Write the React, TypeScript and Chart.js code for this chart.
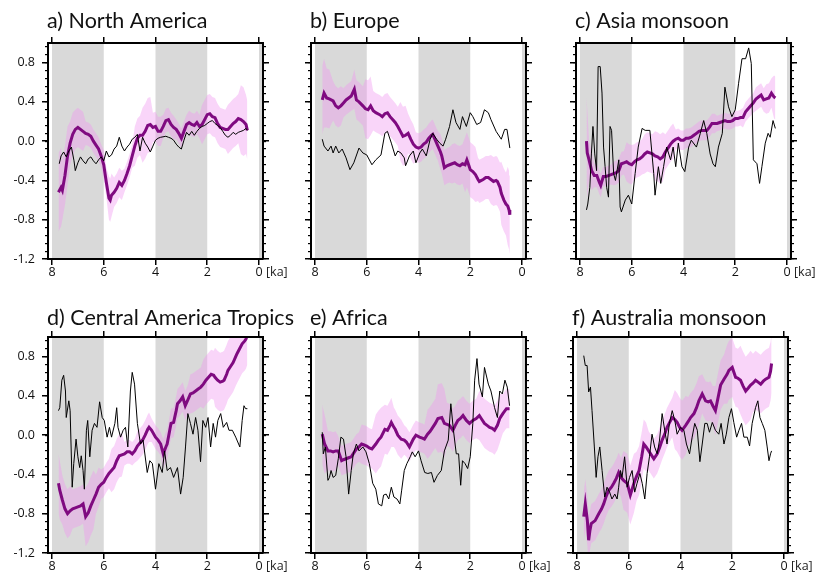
import React, { useEffect, useRef } from 'react';
import { Chart, registerables } from 'chart.js';

Chart.register(...registerables);

// ---- axis / tick definitions ----
const xTicks = [8, 6, 4, 2, 0];
const yTicks = [-1.2, -0.8, -0.4, 0, 0.4, 0.8];
const shadeBands = [[8, 6], [4, 2], [0, -2]];
const X_MIN = -0.155;
const X_MAX = 8.155;
const Y_MIN = -1.2;
const Y_MAX = 1.0;
const MINOR_STEP = 0.08;

// ---- data: [age ka, value] ----
// a) North America
const naMean = [[7.75,-0.52],[7.65,-0.47],[7.6,-0.5],[7.5,-0.35],[7.4,-0.15],[7.3,-0.02],[7.2,0.07],[7.1,0.12],[7.0,0.14],[6.9,0.12],[6.8,0.10],[6.7,0.08],[6.6,0.07],[6.5,0.05],[6.4,0.0],[6.3,-0.04],[6.2,-0.08],[6.1,-0.15],[6.0,-0.24],[5.9,-0.42],[5.8,-0.58],[5.75,-0.6],[5.7,-0.55],[5.6,-0.52],[5.5,-0.48],[5.4,-0.42],[5.3,-0.45],[5.2,-0.4],[5.1,-0.33],[5.0,-0.25],[4.9,-0.15],[4.8,-0.05],[4.7,0.03],[4.6,0.06],[4.5,0.06],[4.4,0.1],[4.3,0.16],[4.2,0.17],[4.1,0.14],[4.0,0.15],[3.9,0.1],[3.8,0.1],[3.7,0.15],[3.6,0.21],[3.5,0.22],[3.4,0.17],[3.3,0.14],[3.2,0.12],[3.1,0.08],[3.0,0.03],[2.9,0.1],[2.8,0.17],[2.7,0.19],[2.6,0.17],[2.5,0.16],[2.4,0.19],[2.3,0.15],[2.2,0.17],[2.1,0.22],[2.0,0.27],[1.9,0.28],[1.8,0.25],[1.7,0.24],[1.6,0.18],[1.5,0.14],[1.4,0.13],[1.3,0.12],[1.2,0.12],[1.1,0.15],[1.0,0.18],[0.9,0.2],[0.8,0.23],[0.7,0.22],[0.6,0.2],[0.5,0.17],[0.45,0.11]];
const naErr = [[7.75,0.4],[7.5,0.3],[7.2,0.22],[7.0,0.2],[6.6,0.12],[6.2,0.12],[5.9,0.15],[5.8,0.22],[5.5,0.15],[5.0,0.12],[4.7,0.2],[4.4,0.28],[4.0,0.15],[3.5,0.12],[3.0,0.1],[2.5,0.12],[2.0,0.2],[1.5,0.2],[1.0,0.25],[0.6,0.35],[0.45,0.3]];
const naBlack = [[7.72,-0.23],[7.65,-0.15],[7.55,-0.11],[7.45,-0.16],[7.35,-0.1],[7.25,-0.06],[7.15,-0.2],[7.1,-0.3],[7.0,-0.22],[6.9,-0.16],[6.8,-0.2],[6.7,-0.23],[6.6,-0.18],[6.5,-0.16],[6.4,-0.2],[6.3,-0.23],[6.2,-0.19],[6.1,-0.16],[6.0,-0.2],[5.9,-0.1],[5.8,-0.16],[5.7,-0.14],[5.6,-0.08],[5.5,-0.05],[5.4,0.04],[5.3,-0.05],[5.2,-0.1],[5.1,-0.06],[5.0,-0.03],[4.9,0.02],[4.8,0.04],[4.7,0.07],[4.6,-0.1],[4.5,0.04],[4.4,-0.02],[4.3,-0.06],[4.2,-0.11],[4.1,-0.05],[4.0,0.01],[3.9,0.03],[3.8,0.04],[3.6,0.05],[3.5,0.04],[3.4,0.03],[3.3,0.01],[3.2,-0.03],[3.1,-0.06],[3.0,-0.08],[2.9,0.01],[2.8,0.09],[2.7,0.06],[2.6,0.1],[2.5,0.06],[2.4,0.1],[2.3,0.13],[2.2,0.15],[2.1,0.16],[2.0,0.18],[1.9,0.2],[1.8,0.21],[1.7,0.18],[1.6,0.16],[1.5,0.14],[1.4,0.1],[1.3,0.06],[1.2,0.04],[1.1,0.06],[1.0,0.09],[0.9,0.07],[0.8,0.09],[0.7,0.1],[0.6,0.11],[0.5,0.13],[0.45,0.11]];

// b) Europe
const nbMean = [[7.72,0.42],[7.65,0.49],[7.55,0.44],[7.45,0.43],[7.3,0.41],[7.2,0.36],[7.1,0.34],[7.0,0.36],[6.9,0.39],[6.8,0.42],[6.7,0.44],[6.6,0.46],[6.48,0.53],[6.4,0.42],[6.3,0.4],[6.15,0.36],[6.05,0.33],[5.95,0.32],[5.85,0.36],[5.75,0.31],[5.65,0.29],[5.5,0.27],[5.4,0.25],[5.3,0.28],[5.2,0.29],[5.1,0.25],[5.0,0.22],[4.9,0.19],[4.8,0.15],[4.7,0.1],[4.6,0.05],[4.5,0.06],[4.4,0.08],[4.3,0.02],[4.2,-0.03],[4.1,-0.06],[4.0,-0.07],[3.9,-0.06],[3.8,-0.03],[3.7,-0.01],[3.6,0.03],[3.5,0.06],[3.45,0.07],[3.35,0.01],[3.25,-0.05],[3.15,-0.11],[3.1,-0.15],[3.0,-0.27],[2.9,-0.25],[2.8,-0.24],[2.7,-0.23],[2.6,-0.22],[2.5,-0.24],[2.4,-0.25],[2.3,-0.23],[2.2,-0.24],[2.13,-0.19],[2.05,-0.25],[2.0,-0.29],[1.9,-0.31],[1.8,-0.34],[1.7,-0.39],[1.65,-0.41],[1.5,-0.39],[1.4,-0.37],[1.3,-0.37],[1.2,-0.39],[1.1,-0.41],[1.0,-0.4],[0.95,-0.41],[0.85,-0.47],[0.8,-0.53],[0.7,-0.6],[0.62,-0.64],[0.55,-0.66],[0.5,-0.7],[0.47,-0.75]];
const nbErr = [[7.72,0.35],[7.5,0.3],[7.2,0.2],[6.8,0.15],[6.3,0.2],[6.0,0.3],[5.6,0.2],[5.0,0.2],[4.6,0.3],[4.3,0.2],[4.0,0.15],[3.5,0.15],[3.0,0.18],[2.5,0.2],[2.0,0.28],[1.5,0.22],[1.0,0.25],[0.7,0.32],[0.5,0.4]];
const nbBlack = [[7.72,0.02],[7.65,-0.05],[7.5,-0.1],[7.38,-0.05],[7.3,-0.12],[7.2,-0.05],[7.08,-0.12],[6.95,-0.08],[6.8,-0.17],[6.65,-0.29],[6.5,-0.22],[6.3,-0.07],[6.15,-0.12],[6.0,-0.14],[5.8,-0.24],[5.65,-0.19],[5.45,-0.14],[5.3,0.08],[5.2,0.1],[5.05,-0.02],[4.9,-0.15],[4.8,-0.1],[4.68,-0.12],[4.55,-0.17],[4.5,-0.25],[4.35,-0.15],[4.2,-0.1],[4.1,-0.22],[3.95,-0.12],[3.85,-0.08],[3.7,-0.15],[3.55,0.02],[3.45,0.08],[3.3,0.02],[3.18,-0.02],[3.05,-0.05],[2.95,0.02],[2.8,0.15],[2.67,0.32],[2.55,0.19],[2.4,0.12],[2.3,0.25],[2.15,0.15],[2.0,0.29],[1.9,0.25],[1.75,0.17],[1.6,0.19],[1.45,0.32],[1.3,0.29],[1.2,0.22],[1.0,0.1],[0.8,0.02],[0.67,0.12],[0.58,0.12],[0.47,-0.07]];

// c) Asia monsoon
const ncMean = [[7.75,0.0],[7.72,-0.12],[7.65,-0.19],[7.55,-0.3],[7.45,-0.35],[7.35,-0.35],[7.25,-0.42],[7.2,-0.45],[7.1,-0.36],[7.0,-0.36],[6.9,-0.35],[6.8,-0.34],[6.7,-0.33],[6.6,-0.32],[6.5,-0.3],[6.4,-0.23],[6.3,-0.22],[6.2,-0.21],[6.1,-0.23],[6.0,-0.24],[5.9,-0.21],[5.8,-0.19],[5.7,-0.18],[5.6,-0.16],[5.5,-0.13],[5.4,-0.11],[5.3,-0.12],[5.2,-0.13],[5.1,-0.15],[5.0,-0.16],[4.9,-0.18],[4.8,-0.16],[4.7,-0.11],[4.6,-0.07],[4.5,-0.03],[4.4,0.0],[4.3,0.02],[4.2,0.03],[4.1,0.01],[4.0,0.01],[3.9,0.03],[3.8,0.03],[3.7,0.04],[3.6,0.06],[3.5,0.08],[3.4,0.1],[3.3,0.11],[3.2,0.11],[3.1,0.11],[3.0,0.14],[2.9,0.18],[2.8,0.18],[2.7,0.18],[2.6,0.19],[2.5,0.2],[2.4,0.21],[2.3,0.2],[2.2,0.2],[2.1,0.21],[2.0,0.23],[1.9,0.23],[1.8,0.24],[1.7,0.24],[1.6,0.3],[1.5,0.33],[1.4,0.36],[1.3,0.39],[1.2,0.43],[1.1,0.45],[1.0,0.47],[0.9,0.42],[0.8,0.43],[0.7,0.44],[0.6,0.49],[0.5,0.45],[0.45,0.44]];
const ncErr = [[7.75,0.45],[7.65,0.2],[7.4,0.12],[7.0,0.1],[6.5,0.12],[6.1,0.2],[5.8,0.18],[5.3,0.2],[5.0,0.25],[4.6,0.18],[4.2,0.1],[3.5,0.1],[3.0,0.1],[2.5,0.08],[2.0,0.08],[1.5,0.1],[1.0,0.12],[0.7,0.15],[0.5,0.22]];
const ncBlack = [[7.75,-0.7],[7.7,-0.64],[7.62,-0.47],[7.56,-0.13],[7.5,0.15],[7.43,-0.13],[7.36,-0.3],[7.3,0.76],[7.22,0.76],[7.15,0.49],[7.09,-0.06],[7.03,-0.26],[6.97,-0.47],[6.9,-0.57],[6.84,0.15],[6.78,0.11],[6.7,-0.33],[6.63,-0.4],[6.5,-0.19],[6.45,-0.67],[6.4,-0.72],[6.25,-0.6],[6.13,-0.55],[6.0,-0.64],[5.87,-0.33],[5.75,-0.06],[5.6,0.13],[5.48,0.11],[5.3,0.11],[5.15,-0.33],[5.1,-0.55],[4.97,-0.26],[4.88,-0.43],[4.77,-0.26],[4.65,-0.06],[4.5,-0.19],[4.4,-0.06],[4.3,-0.26],[4.2,-0.02],[4.06,-0.26],[3.95,-0.31],[3.8,-0.06],[3.7,0.01],[3.5,-0.06],[3.35,0.08],[3.22,0.21],[3.1,0.08],[2.97,-0.13],[2.86,-0.23],[2.77,-0.26],[2.65,-0.06],[2.5,0.08],[2.4,0.55],[2.26,0.35],[2.13,0.25],[2.0,0.32],[1.87,0.59],[1.74,0.84],[1.6,0.84],[1.48,0.95],[1.38,0.79],[1.3,-0.19],[1.16,-0.23],[1.06,-0.43],[0.97,-0.26],[0.84,-0.02],[0.73,0.08],[0.65,0.04],[0.54,0.21],[0.45,0.13]];

// d) Central America Tropics
const ndMean = [[7.75,-0.49],[7.7,-0.56],[7.6,-0.66],[7.5,-0.75],[7.4,-0.8],[7.3,-0.77],[7.2,-0.75],[7.1,-0.74],[7.0,-0.73],[6.9,-0.72],[6.8,-0.7],[6.7,-0.83],[6.6,-0.79],[6.5,-0.72],[6.4,-0.66],[6.3,-0.6],[6.2,-0.53],[6.1,-0.5],[6.0,-0.48],[5.9,-0.43],[5.8,-0.39],[5.7,-0.36],[5.6,-0.33],[5.5,-0.26],[5.4,-0.21],[5.3,-0.2],[5.2,-0.19],[5.1,-0.17],[5.0,-0.17],[4.9,-0.19],[4.8,-0.16],[4.7,-0.11],[4.6,-0.08],[4.5,-0.05],[4.4,0.0],[4.3,0.06],[4.25,0.08],[4.15,0.05],[4.0,-0.02],[3.9,-0.05],[3.8,-0.09],[3.7,-0.19],[3.6,-0.12],[3.55,-0.09],[3.45,0.05],[3.4,0.12],[3.3,0.13],[3.2,0.25],[3.15,0.32],[3.05,0.35],[2.95,0.39],[2.85,0.3],[2.75,0.36],[2.65,0.42],[2.55,0.43],[2.45,0.45],[2.35,0.47],[2.25,0.49],[2.15,0.52],[2.05,0.56],[1.95,0.59],[1.85,0.62],[1.75,0.61],[1.7,0.59],[1.6,0.56],[1.5,0.54],[1.4,0.55],[1.35,0.56],[1.25,0.62],[1.2,0.66],[1.1,0.7],[1.0,0.74],[0.9,0.8],[0.85,0.83],[0.75,0.88],[0.65,0.93],[0.55,0.96],[0.5,0.98],[0.45,1.02]];
const ndErr = [[7.75,0.3],[7.5,0.25],[7.0,0.2],[6.6,0.3],[6.2,0.2],[6.0,0.15],[5.6,0.22],[5.0,0.12],[4.5,0.15],[4.0,0.12],[3.5,0.15],[3.0,0.15],[2.5,0.2],[2.0,0.25],[1.5,0.3],[1.0,0.3],[0.5,0.3]];
const ndBlack = [[7.75,0.25],[7.7,0.28],[7.62,0.56],[7.55,0.61],[7.48,0.45],[7.45,0.18],[7.35,0.35],[7.3,0.25],[7.22,-0.53],[7.16,-0.29],[7.07,-0.04],[7.0,-0.22],[6.93,-0.33],[6.87,-0.21],[6.8,-0.36],[6.75,-0.55],[6.67,0.05],[6.62,0.15],[6.54,-0.22],[6.45,0.05],[6.36,0.12],[6.26,0.08],[6.16,0.34],[6.06,0.18],[5.98,0.15],[5.87,-0.02],[5.78,0.08],[5.7,-0.02],[5.57,0.12],[5.5,0.28],[5.45,0.08],[5.35,-0.02],[5.25,0.05],[5.16,0.08],[5.07,-0.12],[4.97,0.45],[4.9,0.64],[4.81,0.52],[4.7,0.12],[4.58,-0.09],[4.48,-0.05],[4.32,-0.38],[4.22,-0.26],[4.12,-0.29],[4.0,-0.55],[3.87,-0.29],[3.74,-0.38],[3.65,-0.16],[3.55,-0.36],[3.42,-0.33],[3.3,-0.43],[3.15,-0.33],[3.03,-0.6],[2.93,-0.43],[2.84,-0.12],[2.75,0.22],[2.65,0.12],[2.55,0.01],[2.45,0.18],[2.36,0.05],[2.26,-0.27],[2.17,0.15],[2.06,0.08],[1.97,0.18],[1.87,-0.12],[1.77,0.12],[1.68,-0.02],[1.59,0.15],[1.48,0.22],[1.38,0.08],[1.25,0.13],[1.16,0.05],[1.03,0.05],[0.9,-0.02],[0.74,-0.12],[0.65,0.15],[0.58,0.3],[0.52,0.27],[0.45,0.27]];

// e) Africa
const neMean = [[7.72,0.01],[7.63,-0.09],[7.5,-0.16],[7.4,-0.16],[7.3,-0.17],[7.2,-0.16],[7.1,-0.16],[6.97,-0.26],[6.9,-0.25],[6.8,-0.24],[6.7,-0.23],[6.6,-0.22],[6.5,-0.18],[6.4,-0.14],[6.3,-0.12],[6.2,-0.09],[6.1,-0.1],[6.0,-0.11],[5.9,-0.13],[5.8,-0.14],[5.65,-0.09],[5.55,-0.05],[5.45,-0.02],[5.3,0.06],[5.2,0.05],[5.1,0.1],[5.05,0.13],[4.95,0.08],[4.9,0.06],[4.8,0.0],[4.67,-0.04],[4.55,-0.05],[4.47,-0.07],[4.35,-0.12],[4.2,-0.04],[4.1,0.0],[3.96,-0.02],[3.85,-0.03],[3.77,-0.04],[3.65,0.01],[3.55,0.04],[3.45,0.08],[3.35,0.12],[3.25,0.17],[3.1,0.18],[3.0,0.12],[2.9,0.11],[2.8,0.1],[2.67,0.05],[2.58,0.1],[2.48,0.15],[2.38,0.17],[2.28,0.2],[2.15,0.15],[2.03,0.12],[1.9,0.15],[1.77,0.17],[1.65,0.2],[1.55,0.16],[1.45,0.12],[1.35,0.1],[1.25,0.08],[1.15,0.07],[1.06,0.05],[0.95,0.1],[0.86,0.17],[0.74,0.22],[0.6,0.27],[0.48,0.27]];
const neErr = [[7.72,0.3],[7.4,0.2],[7.0,0.15],[6.5,0.15],[6.0,0.2],[5.6,0.3],[5.2,0.25],[4.8,0.2],[4.5,0.15],[4.0,0.15],[3.5,0.25],[3.2,0.35],[2.8,0.22],[2.4,0.2],[2.0,0.2],[1.5,0.25],[1.0,0.25],[0.5,0.2]];
const neBlack = [[7.72,0.03],[7.68,-0.19],[7.6,-0.12],[7.5,-0.46],[7.44,-0.43],[7.38,-0.36],[7.3,-0.43],[7.2,-0.41],[7.1,-0.24],[7.0,-0.02],[6.9,-0.04],[6.8,-0.22],[6.7,-0.6],[6.6,-0.36],[6.52,-0.19],[6.4,-0.09],[6.3,-0.16],[6.15,-0.12],[6.03,-0.17],[5.9,-0.29],[5.77,-0.49],[5.65,-0.55],[5.55,-0.7],[5.42,-0.72],[5.35,-0.61],[5.25,-0.6],[5.15,-0.65],[5.05,-0.53],[4.95,-0.63],[4.83,-0.65],[4.72,-0.7],[4.65,-0.56],[4.55,-0.36],[4.45,-0.29],[4.32,-0.22],[4.24,-0.17],[4.13,-0.22],[4.0,-0.16],[3.9,-0.26],[3.76,-0.38],[3.64,-0.39],[3.5,-0.38],[3.4,-0.48],[3.27,-0.41],[3.12,-0.36],[3.0,-0.16],[2.85,-0.05],[2.75,0.32],[2.65,0.05],[2.54,-0.19],[2.45,-0.19],[2.37,-0.51],[2.3,-0.26],[2.2,-0.29],[2.1,-0.34],[2.0,-0.22],[1.9,0.12],[1.83,0.56],[1.74,0.78],[1.66,0.52],[1.53,0.39],[1.45,0.69],[1.3,0.52],[1.2,0.45],[1.06,0.28],[0.95,0.18],[0.86,0.45],[0.76,0.42],[0.66,0.56],[0.57,0.49],[0.48,0.3]];

// f) Australia monsoon
const nfMean = [[7.74,-0.83],[7.68,-0.7],[7.6,-0.87],[7.55,-1.07],[7.5,-0.97],[7.45,-0.9],[7.3,-0.87],[7.16,-0.8],[7.05,-0.75],[6.97,-0.7],[6.87,-0.62],[6.77,-0.56],[6.67,-0.53],[6.58,-0.49],[6.48,-0.44],[6.39,-0.38],[6.3,-0.43],[6.2,-0.46],[6.06,-0.49],[5.94,-0.61],[5.8,-0.49],[5.7,-0.42],[5.6,-0.36],[5.5,-0.22],[5.42,-0.09],[5.33,-0.12],[5.23,-0.16],[5.13,-0.2],[5.03,-0.24],[4.9,-0.19],[4.8,-0.12],[4.71,-0.05],[4.6,0.02],[4.52,0.08],[4.42,0.13],[4.32,0.18],[4.22,0.16],[4.13,0.13],[4.03,0.08],[3.94,0.05],[3.8,0.1],[3.7,0.14],[3.61,0.18],[3.48,0.22],[3.38,0.28],[3.29,0.35],[3.16,0.42],[3.03,0.35],[2.93,0.34],[2.84,0.35],[2.75,0.3],[2.65,0.25],[2.55,0.38],[2.45,0.51],[2.32,0.57],[2.2,0.62],[2.13,0.66],[2.0,0.69],[1.87,0.59],[1.78,0.58],[1.68,0.56],[1.58,0.5],[1.48,0.45],[1.38,0.48],[1.29,0.51],[1.2,0.53],[1.1,0.56],[1.0,0.54],[0.9,0.52],[0.8,0.55],[0.71,0.57],[0.58,0.59],[0.52,0.65],[0.48,0.73]];
const nfErr = [[7.74,0.25],[7.3,0.2],[7.0,0.2],[6.5,0.2],[6.0,0.3],[5.6,0.25],[5.0,0.2],[4.5,0.2],[4.0,0.3],[3.5,0.25],[3.0,0.2],[2.5,0.25],[2.0,0.3],[1.5,0.35],[1.0,0.3],[0.5,0.3]];
const nfBlack = [[7.74,0.81],[7.68,0.71],[7.61,0.71],[7.55,0.44],[7.48,0.49],[7.42,0.25],[7.33,-0.12],[7.26,-0.43],[7.19,-0.22],[7.12,-0.12],[7.03,-0.36],[6.93,-0.63],[6.84,-0.53],[6.74,-0.58],[6.65,-0.65],[6.54,-0.6],[6.45,-0.65],[6.39,-0.53],[6.32,-0.36],[6.26,-0.43],[6.16,-0.22],[6.06,-0.53],[5.97,-0.43],[5.87,-0.36],[5.77,-0.58],[5.68,-0.49],[5.57,-0.39],[5.48,-0.49],[5.38,-0.65],[5.29,-0.39],[5.2,-0.22],[5.1,0.01],[5.0,-0.12],[4.9,-0.19],[4.81,-0.05],[4.71,0.22],[4.61,0.05],[4.52,-0.09],[4.43,0.12],[4.32,0.25],[4.22,0.15],[4.13,0.01],[4.0,0.08],[3.87,0.05],[3.77,-0.09],[3.65,-0.19],[3.55,-0.02],[3.45,0.12],[3.35,0.05],[3.25,-0.27],[3.16,-0.09],[3.06,0.12],[2.97,0.12],[2.88,0.03],[2.77,0.13],[2.65,0.05],[2.52,0.01],[2.43,0.12],[2.32,-0.09],[2.23,0.01],[2.13,0.18],[2.03,0.27],[1.94,0.13],[1.83,-0.02],[1.74,0.05],[1.64,0.12],[1.55,-0.02],[1.42,-0.02],[1.33,-0.11],[1.23,0.12],[1.1,0.28],[1.01,0.35],[0.93,0.18],[0.84,0.12],[0.74,0.05],[0.65,-0.12],[0.58,-0.26],[0.52,-0.19],[0.48,-0.16]];

// ---- styling / layout ----
const GREY = '#d9d9d9';
const PINK = 'rgba(240,150,240,0.4)';
const PURPLE = '#7f0a80';
const FONT = "'Open Sans', 'DejaVu Sans', sans-serif";
const TITLE_FONT = "21.5px Lato, 'Open Sans', sans-serif";
const PW = 215;
const PH = 216;
const ML = 46;
const MT = 42;
const MR = 40;
const MB = 26;

type Row = number[];
type PanelDef = {
  title: string; mean: Row[]; err: Row[]; black: Row[];
  left: number; top: number; showY: boolean; showKa: boolean; titleGap: number;
};

const panels: PanelDef[] = [
  { title: 'a) North America', mean: naMean, err: naErr, black: naBlack, left: 48, top: 43, showY: true, showKa: true, titleGap: 15 },
  { title: 'b) Europe', mean: nbMean, err: nbErr, black: nbBlack, left: 311, top: 43, showY: false, showKa: false, titleGap: 15 },
  { title: 'c) Asia monsoon', mean: ncMean, err: ncErr, black: ncBlack, left: 576, top: 43, showY: false, showKa: true, titleGap: 15 },
  { title: 'd) Central America Tropics', mean: ndMean, err: ndErr, black: ndBlack, left: 48, top: 337, showY: true, showKa: true, titleGap: 12 },
  { title: 'e) Africa', mean: neMean, err: neErr, black: neBlack, left: 311, top: 337, showY: false, showKa: true, titleGap: 12 },
  { title: 'f) Australia monsoon', mean: nfMean, err: nfErr, black: nfBlack, left: 573, top: 337, showY: false, showKa: true, titleGap: 12 },
];

function nearestErr(age: number, table: Row[]): number {
  let best = table[0];
  for (const r of table) if (Math.abs(r[0] - age) < Math.abs(best[0] - age)) best = r;
  return best[1];
}

const minorTicks: number[] = [];
for (let k = 0; Y_MIN + k * MINOR_STEP <= Y_MAX + 1e-9; k++) minorTicks.push(+(Y_MIN + k * MINOR_STEP).toFixed(2));

const fmtY = (v: number) => (Math.abs(v) < 1e-9 ? '0.0' : v.toFixed(1));

const shadePlugin = {
  id: 'shadeBands',
  beforeDatasetsDraw(chart: any) {
    const { ctx, chartArea } = chart;
    const xs = chart.scales.x;
    ctx.save();
    ctx.beginPath();
    ctx.rect(chartArea.left, chartArea.top, chartArea.right - chartArea.left, chartArea.bottom - chartArea.top);
    ctx.clip();
    ctx.fillStyle = GREY;
    for (const [a, b] of shadeBands) {
      const x1 = xs.getPixelForValue(a);
      const x2 = xs.getPixelForValue(b);
      ctx.fillRect(Math.min(x1, x2), chartArea.top, Math.abs(x2 - x1), chartArea.bottom - chartArea.top);
    }
    ctx.restore();
  },
};

function makeTextPlugin(p: PanelDef) {
  return {
    id: 'panelText',
    afterDraw(chart: any) {
      const ctx = chart.ctx;
      const area = chart.chartArea;
      ctx.save();
      // panel title
      ctx.font = TITLE_FONT;
      ctx.fillStyle = '#111';
      ctx.textAlign = 'left';
      ctx.textBaseline = 'alphabetic';
      ctx.fillText(p.title, area.left - 1, area.top - p.titleGap);
      // unit label next to the 0 tick
      if (p.showKa) {
        const xs = chart.scales.x;
        ctx.font = `12.5px ${FONT}`;
        ctx.fillStyle = '#222';
        ctx.textBaseline = 'middle';
        ctx.fillText('[ka]', xs.getPixelForValue(0) + 7, xs.top + 6 + 7.5);
      }
      ctx.restore();
    },
  };
}

function axisBase(extra: any) {
  return {
    type: 'linear',
    grid: { drawOnChartArea: false, drawTicks: true, tickLength: 6, color: '#000', tickColor: '#000', lineWidth: 1.5, tickWidth: 1.5 },
    border: { display: true, color: '#000', width: 2, z: 1 },
    ...extra,
  };
}

function PanelChart({ p }: { p: PanelDef }) {
  const ref = useRef<HTMLCanvasElement>(null);
  const W = ML + PW + MR;
  const H = MT + PH + MB;
  useEffect(() => {
    if (!ref.current) return;
    Chart.defaults.font.family = FONT;
    Chart.defaults.font.size = 12.5;
    Chart.defaults.color = '#111';
    const meanPts = p.mean.map(([x, y]) => ({ x, y }));
    const upper = p.mean.map(([x, y]) => ({ x, y: y + nearestErr(x, p.err) }));
    const lower = p.mean.map(([x, y]) => ({ x, y: y - nearestErr(x, p.err) }));
    const blackPts = p.black.map(([x, y]) => ({ x, y }));
    const yRange = { min: Y_MIN, max: Y_MAX };
    const chart = new Chart(ref.current, {
      type: 'line',
      data: {
        datasets: [
          { data: upper, borderWidth: 0, borderColor: 'transparent', pointRadius: 0, fill: false, order: 3 },
          { data: lower, borderWidth: 0, borderColor: 'transparent', pointRadius: 0, fill: '-1', backgroundColor: PINK, order: 4 },
          { data: meanPts, borderColor: PURPLE, borderWidth: 3, pointRadius: 0, fill: false, order: 2 },
          { data: blackPts, borderColor: '#000', borderWidth: 1, pointRadius: 0, fill: false, order: 1 },
        ],
      } as any,
      options: {
        responsive: false,
        maintainAspectRatio: false,
        devicePixelRatio: 1,
        animation: false,
        events: [],
        layout: { padding: 0 },
        plugins: { legend: { display: false }, tooltip: { enabled: false }, title: { display: false } },
        scales: {
          x: axisBase({
            position: 'bottom', min: X_MIN, max: X_MAX, reverse: true,
            afterBuildTicks: (s: any) => { s.ticks = xTicks.map((v) => ({ value: v })); },
            afterFit: (s: any) => { s.height = MB; },
            ticks: { display: true, padding: 0, autoSkip: false, maxRotation: 0, color: '#111', callback: (v: any) => String(v) },
          }),
          xTop: axisBase({
            position: 'top', min: X_MIN, max: X_MAX, reverse: true,
            afterBuildTicks: (s: any) => { s.ticks = xTicks.map((v) => ({ value: v })); },
            afterFit: (s: any) => { s.height = MT; },
            ticks: { display: false },
          }),
          y: axisBase({
            position: 'left', weight: 1, ...yRange,
            afterBuildTicks: (s: any) => { s.ticks = yTicks.map((v) => ({ value: v })); },
            afterFit: (s: any) => { s.width = ML; },
            ticks: { display: p.showY, padding: 7, autoSkip: false, color: '#111', callback: (v: any) => fmtY(Number(v)) },
          }),
          yMinL: axisBase({
            position: 'left', weight: 0, ...yRange,
            afterBuildTicks: (s: any) => { s.ticks = minorTicks.map((v) => ({ value: v })); },
            afterFit: (s: any) => { s.width = 0; },
            ticks: { display: false, autoSkip: false },
            grid: { drawOnChartArea: false, drawTicks: true, tickLength: 3, color: '#000', tickColor: '#000', lineWidth: 1.2, tickWidth: 1.2 },
            border: { display: false },
          }),
          yR: axisBase({
            position: 'right', weight: 1, ...yRange,
            afterBuildTicks: (s: any) => { s.ticks = yTicks.map((v) => ({ value: v })); },
            afterFit: (s: any) => { s.width = MR; },
            ticks: { display: false },
          }),
          yMinR: axisBase({
            position: 'right', weight: 0, ...yRange,
            afterBuildTicks: (s: any) => { s.ticks = minorTicks.map((v) => ({ value: v })); },
            afterFit: (s: any) => { s.width = 0; },
            ticks: { display: false, autoSkip: false },
            grid: { drawOnChartArea: false, drawTicks: true, tickLength: 3, color: '#000', tickColor: '#000', lineWidth: 1.2, tickWidth: 1.2 },
            border: { display: false },
          }),
        },
      } as any,
      plugins: [shadePlugin, makeTextPlugin(p)],
    });
    return () => chart.destroy();
  }, [p]);
  return (
    <canvas
      ref={ref}
      width={W}
      height={H}
      style={{ position: 'absolute', left: p.left - ML, top: p.top - MT, width: W, height: H }}
    />
  );
}

export default function App() {
  return (
    <div style={{ position: 'absolute', left: 0, top: 0, width: 818, height: 582, background: '#fff', overflow: 'hidden' }}>
      {panels.map((p) => (
        <PanelChart key={p.title} p={p} />
      ))}
    </div>
  );
}
